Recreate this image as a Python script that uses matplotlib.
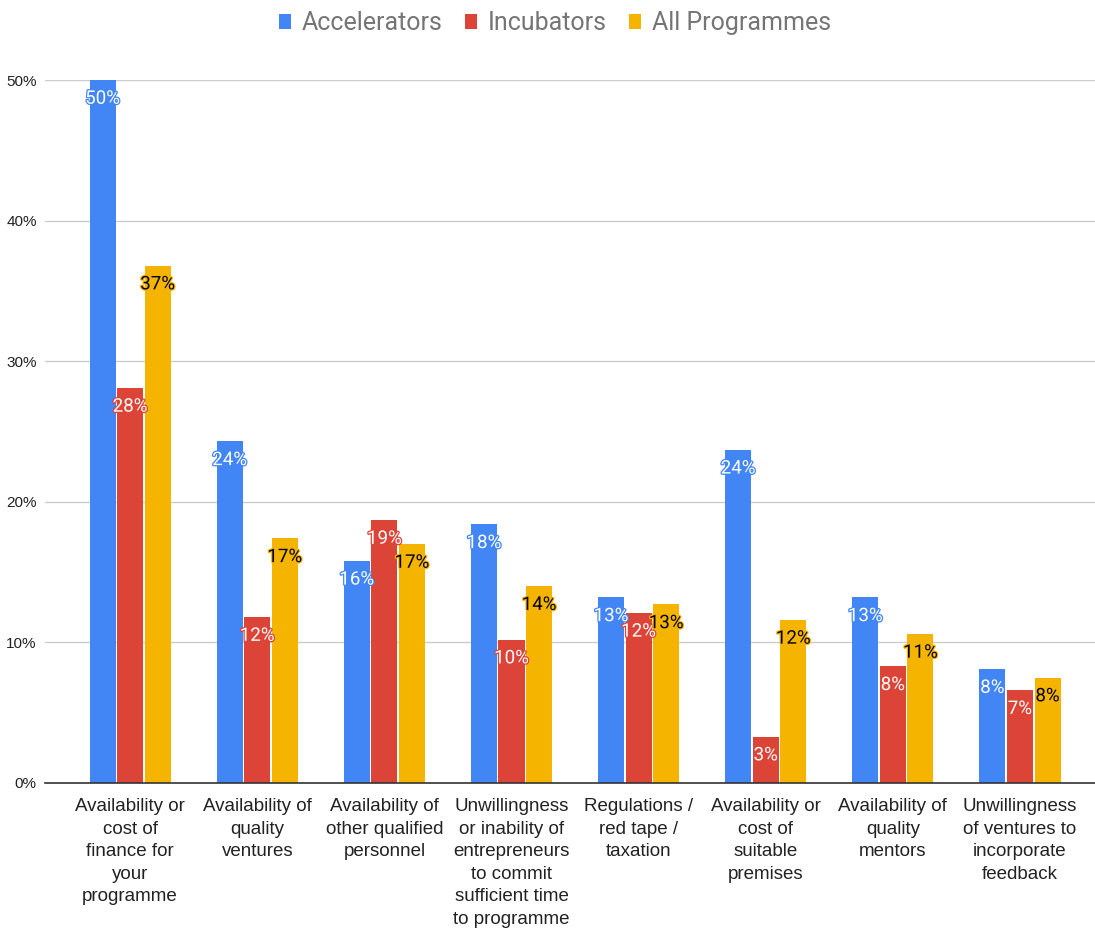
import matplotlib
matplotlib.use('Agg')
import matplotlib.pyplot as plt
import matplotlib.patheffects as pe
import numpy as np

categories = [
    "Availability or\ncost of\nfinance for\nyour\nprogramme",
    "Availability of\nquality\nventures",
    "Availability of\nother qualified\npersonnel",
    "Unwillingness\nor inability of\nentrepreneurs\nto commit\nsufficient time\nto programme",
    "Regulations /\nred tape /\ntaxation",
    "Availability or\ncost of\nsuitable\npremises",
    "Availability of\nquality\nmentors",
    "Unwillingness\nof ventures to\nincorporate\nfeedback",
]
accelerators = [50.0, 24.3, 15.8, 18.4, 13.2, 23.7, 13.2, 8.1]
incubators = [28.1, 11.8, 18.7, 10.2, 12.1, 3.3, 8.3, 6.6]
all_programmes = [36.8, 17.4, 17.0, 14.0, 12.7, 11.6, 10.6, 7.5]

series = [
    ("Accelerators", accelerators, "#4285F4", "white"),
    ("Incubators", incubators, "#DB4437", "white"),
    ("All Programmes", all_programmes, "#F4B400", "black"),
]

plt.rcParams['font.family'] = ['Roboto', 'DejaVu Sans']
arial = ['Liberation Sans', 'DejaVu Sans']

fig = plt.figure(figsize=(10.95, 9.33), dpi=100)
ax = fig.add_axes([45 / 1095, 1 - 783 / 933, 1050 / 1095, 703 / 933])

x = np.arange(len(categories))
width = 0.205
step = 0.217

for i, (name, vals, color, tcolor) in enumerate(series):
    offs = (i - 1) * step
    bars = ax.bar(x + offs, vals, width, color=color, label=name, zorder=3)
    for b, v in zip(bars, vals):
        ax.annotate(f"{v:.0f}%", (b.get_x() + b.get_width() / 2, v),
                    xytext=(0, -13.5), textcoords="offset points",
                    ha="center", va="center", fontsize=13.5, color=tcolor, zorder=4,
                    path_effects=[pe.withStroke(linewidth=1.8, foreground=color)])

ax.set_xlim(-0.67, 7.59)
ax.set_ylim(0, 50)
ax.set_yticks([0, 10, 20, 30, 40, 50])
ax.set_yticklabels([f"{t}%" for t in [0, 10, 20, 30, 40, 50]], fontsize=11,
                   color="#222222", family=arial)
ax.set_xticks(x)
ax.set_xticklabels(categories, fontsize=13.5, color="#222222", linespacing=1.42,
                   family=arial)
ax.tick_params(axis="both", length=0, pad=6)
ax.tick_params(axis="x", pad=11)
ax.grid(axis="y", color="#cccccc", linewidth=1, zorder=0)
for s in ["top", "right", "left"]:
    ax.spines[s].set_visible(False)
ax.spines["bottom"].set_color("#333333")
ax.spines["bottom"].set_linewidth(1.2)
ax.spines["bottom"].set_zorder(5)

fig.legend(loc="upper center", bbox_to_anchor=(0.507, 1.012), ncol=3, frameon=False,
           fontsize=18, handlelength=0.45, handleheight=0.6, handletextpad=0.45,
           columnspacing=0.9, labelcolor="#757575")

fig.savefig("out.png", dpi=100, facecolor="white")
plt.close(fig)
